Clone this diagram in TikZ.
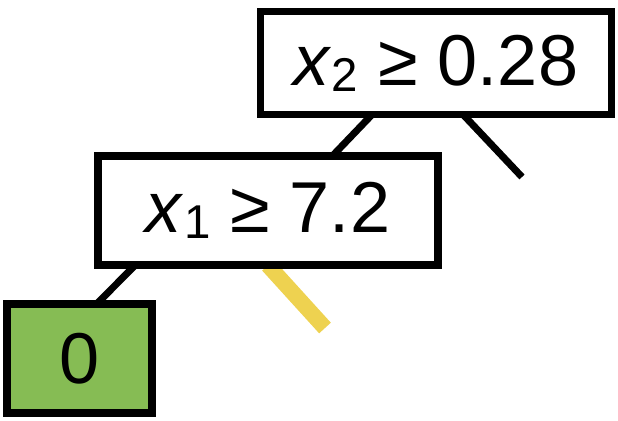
\documentclass[tikz,border=0pt]{standalone}
\usepackage{fontspec}
\setmainfont{Liberation Sans}
\usetikzlibrary{calc,backgrounds}

\definecolor{leafgreen}{RGB}{134,188,84}
\definecolor{pathyellow}{RGB}{238,210,80}
\newcommand{\feat}[1]{\textit{x}\raisebox{-0.08em}{\fontsize{27}{27}\selectfont #1}}

\begin{document}
\begin{tikzpicture}[
      split/.style={rectangle,draw,line width=4.5pt,outer sep=0pt,inner sep=0pt,fill=white,font=\fontsize{41}{44}\selectfont},
      leaf/.style={split,fill=leafgreen},
      every edge/.style={draw,line width=4pt},
      hit/.style={line width=9pt,draw=pathyellow}
    ]
      \useasboundingbox (0,0) rectangle (12.36,-8.4);
      \node[split,minimum width=7.02cm,minimum height=2.06cm] (x2) at (8.72,-1.26) {\feat{2} ≥ 0.28};
      \node[split,minimum width=6.8cm,minimum height=2.19cm] (x1) at (5.36,-4.21) {\feat{1} ≥ 7.2};
      \node[leaf,minimum width=2.9cm,minimum height=2.19cm] (l0) at (1.59,-7.17) {0};
      \coordinate (x2r) at (10.44,-3.54);
      \coordinate (x1r) at (6.5,-6.56);
      \begin{pgfonlayer}{background}
        \draw ($(x2.south west)!0.318!(x2.south east)$) edge ($(x1.north west)!0.69!(x1.north east)$)
              ($(x2.south west)!0.577!(x2.south east)$) edge (x2r)
              ($(x1.south west)!0.109!(x1.south east)$) edge ($(l0.north west)!0.62!(l0.north east)$);
        \draw[hit] (x1.south) -- (x1r);
      \end{pgfonlayer}
    \end{tikzpicture}
\end{document}
